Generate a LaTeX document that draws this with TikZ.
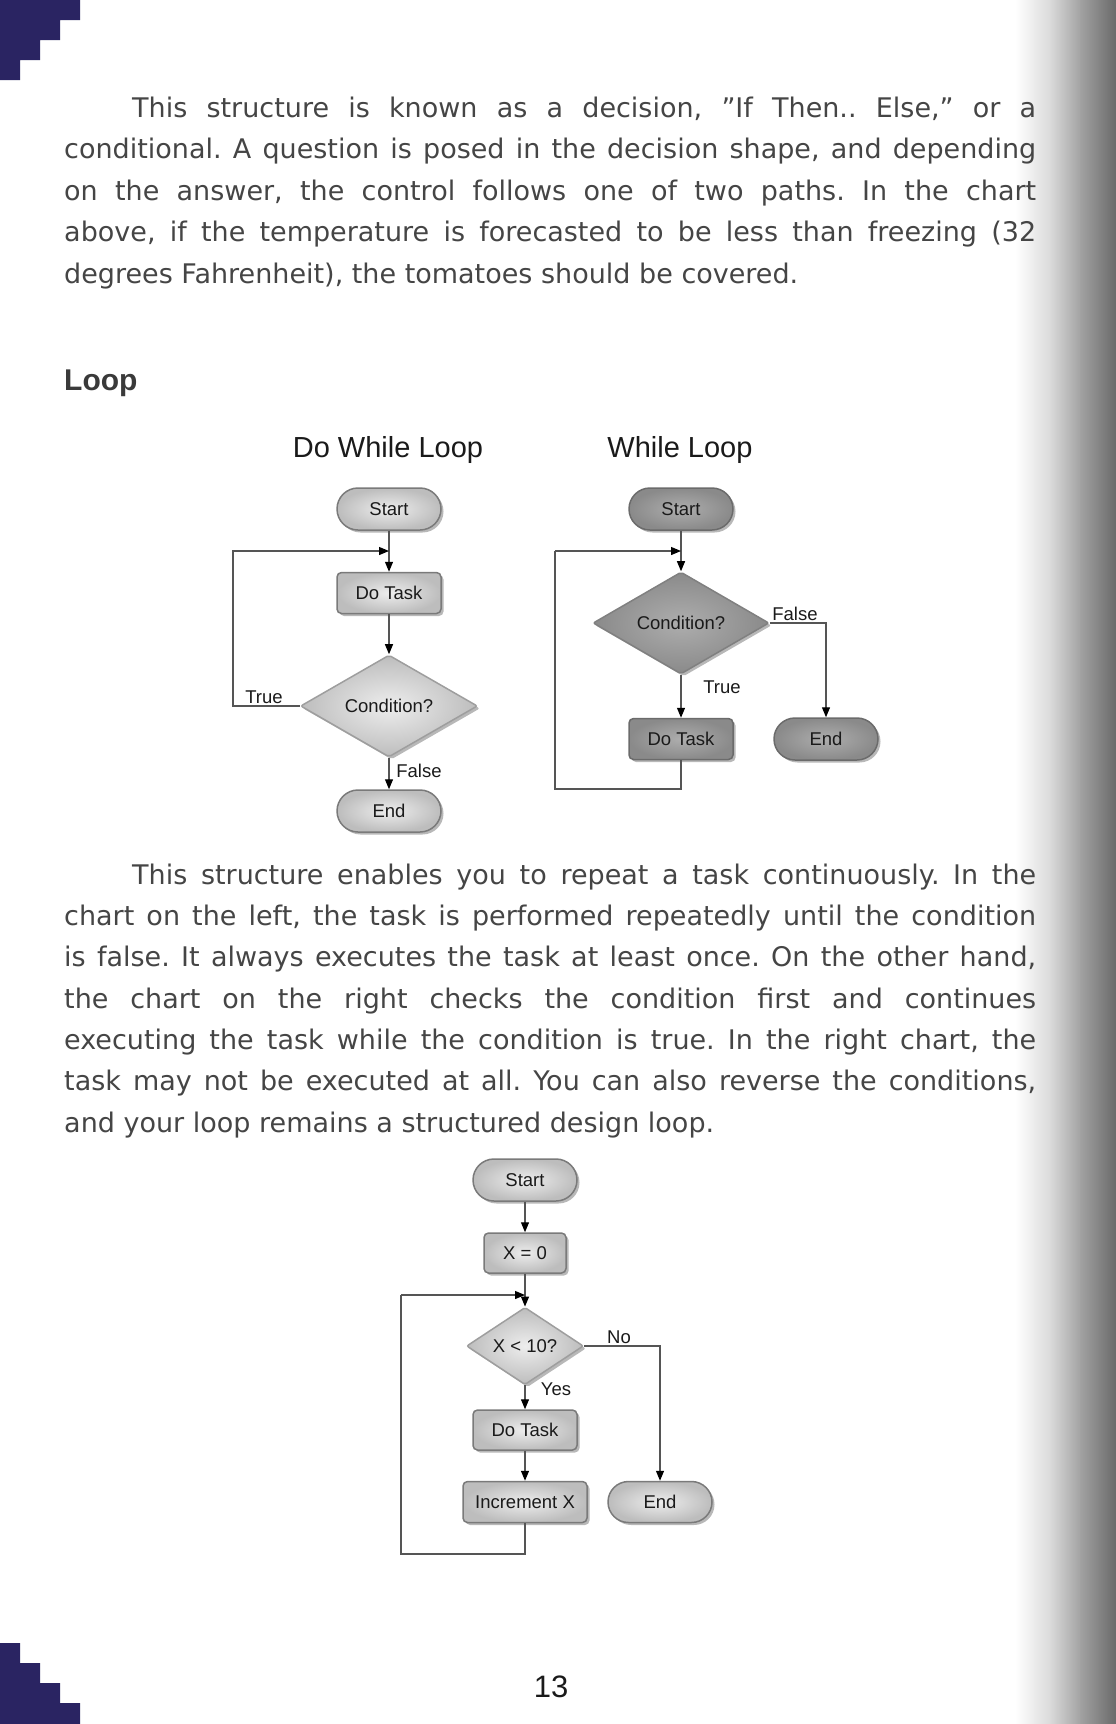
\documentclass[tikz,border=0pt]{standalone}
\usepackage{fontspec}
\setmainfont{DejaVu Sans}
\newfontfamily\arialf{Liberation Sans}
\usetikzlibrary{shapes.geometric,shapes.misc,arrows.meta,shadows}
\frenchspacing
\definecolor{navy}{HTML}{2A2462}
\definecolor{bodytext}{HTML}{454545}
\definecolor{headtext}{HTML}{3A3A3A}
\definecolor{labeltext}{HTML}{1A1A1A}
\definecolor{edgeA}{HTML}{DADADA}
\definecolor{edgeB}{HTML}{A2A2A2}
\definecolor{edgeC}{HTML}{6A6A6A}
\definecolor{linegray}{HTML}{555555}
\newcommand{\bodyf}{\fontsize{27pt}{27pt}\selectfont\color{bodytext}}
\newcommand{\nodef}{\arialf\fontsize{18.5pt}{18.5pt}\selectfont\color{labeltext}}
\newcommand{\titlef}{\arialf\fontsize{29pt}{29pt}\selectfont\color{labeltext}}
\tikzset{
  bodyline/.style={anchor=base west, inner sep=0pt, font=\bodyf},
  boxshadow/.style={drop shadow={shadow xshift=2.5pt, shadow yshift=-2.5pt, opacity=0.28, fill=black}},
  lightfill/.style={draw=black!52, line width=1.5pt, inner color=black!7, outer color=black!26, boxshadow},
  darkfill/.style={draw=black!58, line width=1.5pt, inner color=black!32, outer color=black!46, boxshadow},
  termlight/.style={rounded rectangle, lightfill, minimum width=104pt, minimum height=42pt, inner sep=0pt, font=\nodef},
  termdark/.style={rounded rectangle, darkfill, minimum width=104pt, minimum height=42pt, inner sep=0pt, font=\nodef},
  proclight/.style={rectangle, rounded corners=4.5pt, lightfill, minimum width=104pt, minimum height=41pt, inner sep=0pt, font=\nodef},
  procdark/.style={rectangle, rounded corners=4.5pt, darkfill, minimum width=104pt, minimum height=41pt, inner sep=0pt, font=\nodef},
  decilight/.style={diamond, lightfill, draw=black!38, rounded corners=2pt, inner sep=0pt, font=\nodef},
  decidark/.style={diamond, darkfill, draw=black!50, rounded corners=2pt, inner sep=0pt, font=\nodef},
  arr/.style={-{Triangle[length=10pt,width=8pt,color=black]}, line width=1.2pt, linegray},
  loopline/.style={line width=1.2pt, linegray},
  lbl/.style={anchor=base, inner sep=0pt, font=\nodef},
}
\begin{document}
\begin{tikzpicture}[x=1pt,y=-1pt]
\useasboundingbox (0,0) rectangle (1116,1724);
% right edge shade
\shade[left color=white, right color=edgeA] (1015,0) rectangle (1051,1724);
\shade[left color=edgeA, right color=edgeB] (1050,0) rectangle (1081,1724);
\shade[left color=edgeB, right color=edgeC] (1080,0) rectangle (1116,1724);
% corner stairs
\fill[navy] (0,0) rectangle (80,20) (0,19) rectangle (60,40) (0,39) rectangle (40,60) (0,59) rectangle (20,80);
\fill[navy] (0,1643) rectangle (20,1724) (19,1663) rectangle (40,1724) (39,1683) rectangle (60,1724) (59,1703) rectangle (80,1724);

% paragraph 1
\node[bodyline] (p1a) at (132,117) {\makebox[904pt][s]{This structure is known as a decision, ”If Then.. Else,” or a}};
\node[bodyline] (p1b) at (64,158.5) {\makebox[972pt][s]{conditional. A question is posed in the decision shape, and depending}};
\node[bodyline] (p1c) at (64,200) {\makebox[972pt][s]{on the answer, the control follows one of two paths. In the chart}};
\node[bodyline] (p1d) at (64,241.5) {\makebox[972pt][s]{above, if the temperature is forecasted to be less than freezing (32}};
\node[bodyline] (p1e) at (64,283) {degrees Fahrenheit), the tomatoes should be covered.};

% heading
\node[anchor=base west, inner sep=0pt, font=\arialf\bfseries\fontsize{30pt}{30pt}\selectfont\color{headtext}] (head) at (64,390) {Loop};

% titles
\node[anchor=base, inner sep=0pt, font=\titlef] (t1) at (388,457) {Do While Loop};
\node[anchor=base, inner sep=0pt, font=\titlef] (t2) at (680,457) {While Loop};

% ---- Do While chart
\node[termlight] (start1) at (389,509) {Start};
\node[proclight] (task1) at (389,593) {Do Task};
\node[decilight, minimum width=177pt, minimum height=98pt] (cond1) at (389,706) {Condition?};
\node[termlight] (end1) at (389,811) {End};
\coordinate (j1) at (389,551);
\coordinate (l1) at (233,551);
\draw[arr] (start1.south) -- (task1.north);
\draw[arr] (task1.south) -- (cond1.north);
\draw[arr] (cond1.south) -- (end1.north);
\draw[arr] (cond1.west) -| (l1) -- (j1);
\node[lbl] (tr1) at (264,703) {True};
\node[lbl] (fa1) at (419,777) {False};

% ---- While chart
\node[termdark] (start2) at (681,509) {Start};
\node[decidark, minimum width=176pt, minimum height=99pt] (cond2) at (681,623) {Condition?};
\node[procdark] (task2) at (681,739) {Do Task};
\node[termdark] (end2) at (826,739) {End};
\coordinate (j2) at (681,551);
\coordinate (l2) at (555,551);
\coordinate (b2) at (681,789);
\draw[arr] (start2.south) -- (cond2.north);
\draw[arr] (cond2.south) -- (task2.north);
\draw[arr] (cond2.east) -| (end2.north);
\draw[loopline] (task2.south) -- (b2) -| (l2);
\draw[arr] (l2) -- (j2);
\node[lbl] (fa2) at (795,620) {False};
\node[lbl] (tr2) at (722,693) {True};

% paragraph 2
\node[bodyline] (p2a) at (132,884) {\makebox[904pt][s]{This structure enables you to repeat a task continuously. In the}};
\node[bodyline] (p2b) at (64,925.3) {\makebox[972pt][s]{chart on the left, the task is performed repeatedly until the condition}};
\node[bodyline] (p2c) at (64,966.7) {\makebox[972pt][s]{is false. It always executes the task at least once. On the other hand,}};
\node[bodyline] (p2d) at (64,1008) {\makebox[972pt][s]{the chart on the right checks the condition first and continues}};
\node[bodyline] (p2e) at (64,1049.3) {\makebox[972pt][s]{executing the task while the condition is true. In the right chart, the}};
\node[bodyline] (p2f) at (64,1090.7) {\makebox[972pt][s]{task may not be executed at all. You can also reverse the conditions,}};
\node[bodyline] (p2g) at (64,1132) {and your loop remains a structured design loop.};

% ---- For-style loop chart
\node[termlight] (start3) at (525,1180) {Start};
\node[proclight, minimum width=82pt, minimum height=40pt] (x03) at (525,1253) {X = 0};
\node[decilight, minimum width=117pt, minimum height=58pt] (cond3) at (525,1346) {X < 10?};
\node[proclight, minimum height=40pt] (task3) at (525,1430) {Do Task};
\node[proclight, minimum width=124pt] (inc3) at (525,1502) {Increment X};
\node[termlight, minimum height=41pt] (end3) at (660,1502) {End};
\coordinate (j3) at (525,1295);
\coordinate (l3) at (401,1295);
\coordinate (b3) at (525,1554);
\draw[arr] (start3.south) -- (x03.north);
\draw[arr] (x03.south) -- (cond3.north);
\draw[arr] (cond3.south) -- (task3.north);
\draw[arr] (task3.south) -- (inc3.north);
\draw[arr] (cond3.east) -| (end3.north);
\draw[loopline] (inc3.south) -- (b3) -| (l3);
\draw[arr] (l3) -- (j3);
\node[lbl] (no3) at (619,1343) {No};
\node[lbl] (yes3) at (556,1395) {Yes};

% page number
\node[anchor=base, inner sep=0pt, font=\arialf\fontsize{31pt}{31pt}\selectfont\color{labeltext}] (pg) at (551,1697) {13};
\end{tikzpicture}
\end{document}
